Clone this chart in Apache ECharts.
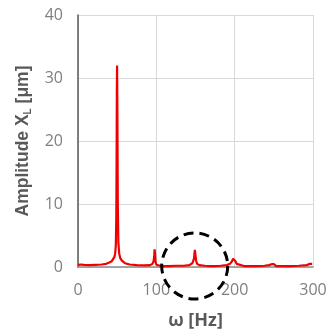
<!DOCTYPE html>
<html><head><meta charset="utf-8">
<script src="https://cdn.jsdelivr.net/npm/echarts@6/dist/echarts.min.js"></script>
<style>html,body{margin:0;padding:0;background:#fff}#c{width:329px;height:334px}</style>
</head><body><div id="c"></div>
<script>
// Frequency (Hz) and amplitude (µm)
var freq = [0,3,8,15,22,30,36,40,43,45,46.5,47.5,48.3,48.9,49.3,49.6,49.9,50.3,50.8,51.5,52.5,54,56,60,66,75,85,92,95,96.5,97.3,97.8,98.3,99,100,102,106,115,125,135,142,146,148,149.2,150,150.8,152,155,162,172,182,190,194,196.5,198,199,200,201,202.5,205,212,225,238,244,247,248.5,250,251.5,253,258,270,282,292,296,298,299,300];
var amp  = [0.3,0.4,0.35,0.3,0.35,0.4,0.5,0.7,0.9,1.2,1.6,2.2,3.5,8,18,28,32,24,10,4,2.2,1.4,1.0,0.6,0.4,0.3,0.25,0.3,0.5,0.9,1.8,2.8,2.2,0.8,0.35,0.2,0.15,0.15,0.2,0.2,0.3,0.6,1.3,2.7,2.4,1.0,0.5,0.3,0.2,0.15,0.2,0.3,0.5,0.9,1.3,1.5,1.3,0.9,0.5,0.25,0.15,0.15,0.2,0.3,0.45,0.6,0.45,0.3,0.15,0.15,0.15,0.2,0.3,0.5,0.6,0.5];
var xTicks = [0,100,200,300];
var yTicks = [0,10,20,30,40];

var data = freq.map(function(f,i){return [f, amp[i]];});
var chart = echarts.init(document.getElementById('c'));
var lbl = {color:'#7f7f7f', fontSize:16, fontFamily:'Open Sans'};
chart.setOption({
  animation:false,
  grid:{left:78, right:16, top:15, bottom:67, containLabel:false, outerBoundsMode:'none'},
  xAxis:{type:'value', min:0, max:300, interval:100,
    name:'ω [Hz]', nameLocation:'middle', nameGap:45,
    nameTextStyle:{color:'#595959', fontSize:18, fontWeight:'bold', fontFamily:'Open Sans'},
    axisLine:{lineStyle:{color:'#8c8c8c', width:1.5}}, axisTick:{show:false},
    axisLabel:Object.assign({margin:15}, lbl),
    splitLine:{show:true, lineStyle:{color:'#d9d9d9'}}},
  yAxis:{type:'value', min:0, max:40, interval:10,
    name:'Amplitude X{s|L} [μm]', nameLocation:'middle', nameGap:45,
    nameTextStyle:{color:'#595959', fontSize:17.5, fontWeight:'bold', fontFamily:'Liberation Sans',
      rich:{s:{fontSize:10, fontWeight:'bold', color:'#595959', fontFamily:'Liberation Sans', verticalAlign:'bottom', padding:[9,0,0,0]}}},
    axisLine:{show:true, lineStyle:{color:'#595959', width:1.5}}, axisTick:{show:false},
    axisLabel:Object.assign({margin:15}, lbl),
    splitLine:{show:true, lineStyle:{color:'#d9d9d9'}}},
  series:[{type:'line', data:data, showSymbol:false, smooth:false,
    lineStyle:{color:'#f00000', width:2.2}, itemStyle:{color:'#f00000'}}]
});
var c = chart.convertToPixel({gridIndex:0}, [149, 0]);
chart.setOption({graphic:[{type:'circle', shape:{cx:c[0], cy:c[1]-1, r:33},
  style:{fill:'none', stroke:'#000', lineWidth:3, lineDash:[10,6]}, z:100}]});
</script></body></html>
